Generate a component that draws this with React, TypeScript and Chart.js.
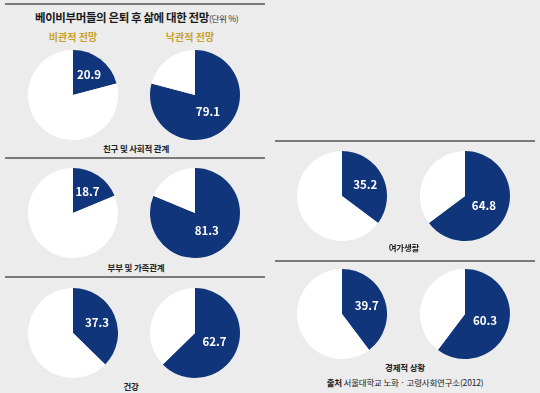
import React, { useEffect, useRef } from "react";
import { Chart, registerables } from "chart.js";

Chart.register(...registerables);

// ---- data ----
const categories = ["친구 및 사회적 관계", "부부 및 가족관계", "건강", "여가생활", "경제적 상황"];
const pessimistic = [20.9, 18.7, 37.3, 35.2, 39.7];
const optimistic = [79.1, 81.3, 62.7, 64.8, 60.3];
const columnHeads = ["비관적 전망", "낙관적 전망"];
const titleMain = "베이비부머들의 은퇴 후 삶에 대한 전망";
const titleUnit = "(단위 %)";
const sourceBold = "출처";
const sourceText = " 서울대학교 노화 · 고령사회연구소(2012)";

const BLUE = "#10357a";
const GOLD = "#c9a02a";
const FONT = "'Noto Sans CJK KR', 'Noto Sans', sans-serif";

const labelPlugin = {
  id: "sliceLabel",
  afterDatasetsDraw(chart: any) {
    const meta = chart.getDatasetMeta(0);
    const arc = meta.data[0];
    const v = chart.data.datasets[0].data[0];
    const { x, y, startAngle, endAngle, outerRadius } = arc.getProps(
      ["x", "y", "startAngle", "endAngle", "outerRadius"],
      true
    );
    const mid = (startAngle + endAngle) / 2;
    const f = v > 50 ? 0.47 : 0.58;
    const lx = x + Math.cos(mid) * outerRadius * f;
    const ly = y + Math.sin(mid) * outerRadius * f;
    const ctx = chart.ctx;
    ctx.save();
    ctx.fillStyle = "#ffffff";
    ctx.font = `bold 11.5px ${FONT}`;
    ctx.textAlign = "center";
    ctx.textBaseline = "middle";
    ctx.fillText(v.toFixed(1), lx, ly);
    ctx.restore();
  },
};

function Pie({ value, cx, cy, r }: { value: number; cx: number; cy: number; r: number }) {
  const ref = useRef<HTMLCanvasElement>(null);
  useEffect(() => {
    const chart = new Chart(ref.current!, {
      type: "pie",
      data: {
        labels: ["blue", "rest"],
        datasets: [
          {
            data: [value, +(100 - value).toFixed(1)],
            backgroundColor: [BLUE, "#ffffff"],
            borderWidth: 0,
          },
        ],
      },
      options: {
        responsive: false,
        animation: false,
        layout: { padding: 0 },
        plugins: { legend: { display: false }, tooltip: { enabled: false } },
      },
      plugins: [labelPlugin],
    });
    return () => chart.destroy();
  }, [value]);
  return (
    <canvas
      ref={ref}
      width={2 * r}
      height={2 * r}
      style={{ position: "absolute", left: cx - r, top: cy - r, width: 2 * r, height: 2 * r }}
    />
  );
}

const Line = ({ x1, x2, y }: { x1: number; x2: number; y: number }) => (
  <div style={{ position: "absolute", left: x1, top: y - 1, width: x2 - x1, height: 2, background: "#7a7a7a" }} />
);

const Label = ({ text, cx, cy, size = 10, color = "#222", weight = 700, ls = 0 }: any) => (
  <div
    style={{
      position: "absolute",
      left: cx - 150,
      top: cy - size,
      width: 300,
      height: size * 2,
      lineHeight: `${size * 2}px`,
      textAlign: "center",
      fontSize: size,
      fontWeight: weight,
      color,
      fontFamily: FONT,
      whiteSpace: "nowrap",
      letterSpacing: ls,
    }}
  >
    {text}
  </div>
);

export default function App() {
  const R = 45;
  const pos = [
    { lx: 73, rx: 195, cy: 95, ly: 148 },
    { lx: 73, rx: 195, cy: 213, ly: 267 },
    { lx: 73, rx: 195, cy: 333, ly: 386 },
    { lx: 342, rx: 465, cy: 196, ly: 247 },
    { lx: 342, rx: 465, cy: 314, ly: 367 },
  ];
  const labelX = [136, 136, 131, 404, 405];
  return (
    <div
      style={{
        position: "fixed",
        left: 0,
        top: 0,
        width: 540,
        height: 393,
        background: "#ececec",
        overflow: "hidden",
      }}
    >
      <Line x1={5} x2={265} y={4} />
      <Line x1={5} x2={265} y={158} />
      <Line x1={5} x2={265} y={277} />
      <Line x1={275} x2={535} y={141} />
      <Line x1={275} x2={535} y={261} />

      <div
        style={{
          position: "absolute",
          left: 35,
          top: 9,
          fontFamily: FONT,
          fontSize: 11.5,
          fontWeight: 700,
          color: "#1a1a1a",
          whiteSpace: "nowrap",
          lineHeight: "17px",
          letterSpacing: -0.4,
        }}
      >
        {titleMain}
        <span style={{ fontSize: 8.5, fontWeight: 400, color: "#333", letterSpacing: -0.3 }}>{titleUnit}</span>
      </div>

      <Label text={columnHeads[0]} cx={73} cy={37} size={10} color={GOLD} />
      <Label text={columnHeads[1]} cx={190} cy={37} size={10} color={GOLD} />

      {categories.map((c, i) => (
        <React.Fragment key={c}>
          <Pie value={pessimistic[i]} cx={pos[i].lx} cy={pos[i].cy} r={R} />
          <Pie value={optimistic[i]} cx={pos[i].rx} cy={pos[i].cy} r={R} />
          <Label text={c} cx={labelX[i]} cy={pos[i].ly} size={8.5} ls={-0.2} />
        </React.Fragment>
      ))}

      <div
        style={{
          position: "absolute",
          left: 255,
          top: 374,
          width: 300,
          textAlign: "center",
          fontFamily: FONT,
          fontSize: 8.5,
          color: "#222",
          whiteSpace: "nowrap",
          lineHeight: "16px",
          letterSpacing: -0.2,
        }}
      >
        <b>{sourceBold}</b>
        {sourceText}
      </div>
    </div>
  );
}
